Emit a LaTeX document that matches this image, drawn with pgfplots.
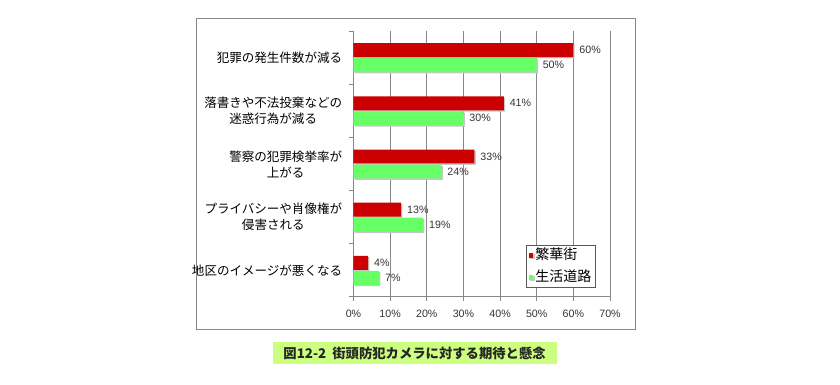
\documentclass[border=0pt]{standalone}
\usepackage{fontspec}
\setmainfont{Noto Sans CJK JP}
\newfontfamily\numfont{Liberation Sans}
\usepackage{pgfplots}
\pgfplotsset{compat=1.18}
\definecolor{barred}{HTML}{CC0000}
\definecolor{bargreen}{HTML}{66FF66}
\definecolor{gridgray}{HTML}{888888}
\definecolor{capgreen}{HTML}{CCFF80}
\pgfplotsset{mylegend/.style={legend image code/.code={\fill[##1] (0pt,-1.8pt) rectangle (3.6pt,1.8pt);}}}
\begin{document}
\begin{tikzpicture}[x=0.75pt,y=0.75pt]
\useasboundingbox (0,0) rectangle (840,385);
\draw[gridgray, line width=0.75pt] (196,366.5) rectangle (635,55.7);
\begin{axis}[
  at={(265.125pt,66pt)}, anchor=south west,
  scale only axis, width=192.4pt, height=199.5pt,
  xbar, bar width=0.263,
  xmin=0, xmax=70, ymin=-0.5, ymax=4.5,
  axis x line*=bottom, axis y line*=left,
  axis line style={gridgray, line width=0.75pt, -},
  xtick={0,10,...,70},
  xticklabel={\pgfmathprintnumber{\tick}\%},
  /pgf/number format/assume math mode=true,
  xticklabel style={font=\numfont\fontsize{8}{9.6}\selectfont, text=black!80, yshift=-3pt},
  xmajorgrids, grid style={gridgray, line width=0.75pt},
  tick align=outside, major tick length=3pt,
  tick style={gridgray, line width=0.75pt},
  ytick={-0.5,0.5,...,4.5}, yticklabels={},
  extra y ticks={0,1,2,3,4},
  extra y tick labels={地区のイメージが悪くなる, プライバシーや肖像権が\\侵害される, 警察の犯罪検挙率が\\上がる, 落書きや不法投棄などの\\迷惑行為が減る, 犯罪の発生件数が減る},
  extra y tick style={major tick length=0pt, yticklabel style={font=\fontsize{9.4}{12}\selectfont, align=center, text=black, xshift=-5pt}},
  point meta=x,
  nodes near coords={\pgfmathprintnumber{\pgfplotspointmeta}\%},
  nodes near coords style={font=\numfont\fontsize{8}{9.6}\selectfont, text=black!80, anchor=west, xshift=1pt},
  legend style={at={(axis description cs:0.6725,0.0327)}, anchor=south west,
    draw=black!65, line width=0.75pt, font=\fontsize{10.5}{12}\selectfont,
    inner xsep=1.5pt, inner ysep=1.5pt, row sep=4pt,
    nodes={inner sep=1.5pt, text height=7.5pt, text depth=2pt}},
  legend cell align=left,
]
\addplot[mylegend, bar shift=0.141, fill=barred, draw=none,
  preaction={fill=black!22, transform canvas={xshift=1pt,yshift=-1pt}}]
  coordinates {(60,4) (41,3) (33,2) (13,1) (4,0)};
\addplot[mylegend, bar shift=-0.141, fill=bargreen, draw=none,
  preaction={fill=black!22, transform canvas={xshift=1pt,yshift=-1pt}}]
  coordinates {(50,4) (30,3) (24,2) (19,1) (7,0)};
\legend{繁華街, 生活道路}
\end{axis}
\node[fill=capgreen, minimum width=213pt, minimum height=16.5pt, inner sep=0pt,
  font=\bfseries\fontsize{10}{12}\selectfont, text=black!85] at (414.6,31.8)
  {図12-2\ \ 街頭防犯カメラに対する期待と懸念};
\end{tikzpicture}
\end{document}
